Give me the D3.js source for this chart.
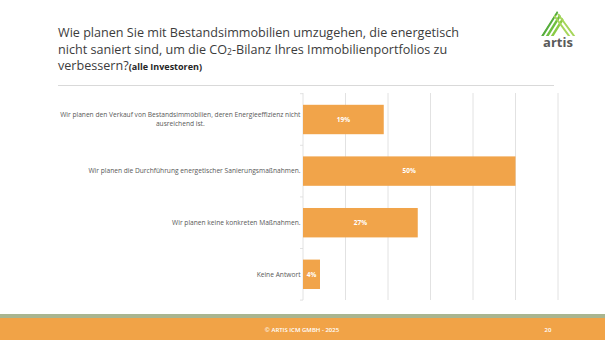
<!DOCTYPE html>
<html>
<head>
<meta charset="utf-8">
<script src="https://cdn.jsdelivr.net/npm/d3@7"></script>
<style>
  body { margin: 0; background: #fff; }
  svg { display: block; }
  text { font-family: "Open Sans", sans-serif; }
</style>
</head>
<body>
<svg id="chart" width="605" height="340"></svg>
<script>
const categories = [
  "Wir planen den Verkauf von Bestandsimmobilien, deren Energieeffizienz nicht ausreichend ist.",
  "Wir planen die Durchführung energetischer Sanierungsmaßnahmen.",
  "Wir planen keine konkreten Maßnahmen.",
  "Keine Antwort"
];
const values = [19, 50, 27, 4];
const gridTicks = [0, 10, 20, 30, 40, 50, 60];

const orange = "#f1a44a";
const svg = d3.select("#chart");

// title block
const title = svg.append("g").attr("fill", "#3c3c3c").style("font-size", "12.6px");
title.append("text").attr("x", 58).attr("y", 37)
    .text("Wie planen Sie mit Bestandsimmobilien umzugehen, die energetisch");
const t2 = title.append("text").attr("x", 58).attr("y", 53.5);
t2.append("tspan").text("nicht saniert sind, um die CO");
t2.append("tspan").attr("dy", 1.5).style("font-size", "8.5px").text("2");
t2.append("tspan").attr("dy", -1.5).text("-Bilanz Ihres Immobilienportfolios zu");
const t3 = title.append("text").attr("x", 58).attr("y", 70);
t3.append("tspan").text("verbessern?");
t3.append("tspan").style("font-size", "9px").style("font-weight", 700).attr("fill", "#262626")
    .text("(alle Investoren)");

svg.append("line").attr("x1", 58).attr("x2", 554).attr("y1", 85.5).attr("y2", 85.5)
    .attr("stroke", "#d9d9d9").attr("stroke-width", 1);

// logo
const logo = svg.append("g");
logo.append("clipPath").attr("id", "tri")
  .append("path").attr("d", "M557,11 L576,36 L541,36 Z");
const stripes = logo.append("g").attr("clip-path", "url(#tri)");
const greens = ["#3f9b3a", "#56ad3c", "#6fbf3f", "#8acb45"];
greens.forEach((c, i) => {
  stripes.append("line")
    .attr("x1", 536 + i * 5).attr("y1", 38).attr("x2", 556 + i * 5).attr("y2", 6)
    .attr("stroke", c).attr("stroke-width", 2.4);
});
[0, 1, 2].forEach(i => {
  stripes.append("line")
    .attr("x1", 553 + i * 5).attr("y1", 14).attr("x2", 572 + i * 5).attr("y2", 40)
    .attr("stroke", "#a6d65a").attr("stroke-width", 2);
});
logo.append("text").attr("x", 558).attr("y", 47).attr("text-anchor", "middle")
    .attr("fill", "#5a5a5a").style("font-size", "13px").style("font-weight", 700)
    .text("artis");

// chart
const x = d3.scaleLinear().domain([0, 60]).range([303, 558]);
const y = d3.scaleBand().domain(categories).range([93.7, 300.1])
    .paddingInner(0.43).paddingOuter(0.215);
const plotTop = 93, plotBottom = 300;

svg.append("g").selectAll("line").data(gridTicks).join("line")
    .attr("x1", d => x(d)).attr("x2", d => x(d))
    .attr("y1", plotTop).attr("y2", plotBottom)
    .attr("stroke", "#dadada").attr("stroke-width", 0.8);

// small separators on the category axis
const bounds = d3.range(categories.length + 1).map(i => 93.7 + i * y.step());
svg.append("g").selectAll("line").data(bounds).join("line")
    .attr("x1", x(0) - 3).attr("x2", x(0))
    .attr("y1", d => d).attr("y2", d => d)
    .attr("stroke", "#dadada").attr("stroke-width", 0.8);

svg.append("g").selectAll("rect").data(values).join("rect")
    .attr("x", x(0))
    .attr("y", (d, i) => y(categories[i]))
    .attr("width", d => x(d) - x(0))
    .attr("height", y.bandwidth())
    .attr("fill", orange);

svg.append("g").selectAll("text").data(values).join("text")
    .attr("x", d => (x(0) + x(d)) / 2)
    .attr("y", (d, i) => y(categories[i]) + y.bandwidth() / 2)
    .attr("dy", "0.35em")
    .attr("text-anchor", "middle")
    .attr("fill", "#fff")
    .style("font-size", "6.5px").style("font-weight", 700)
    .text(d => d + "%");

// category labels, wrapped and centred as a block that ends at the axis
const labelRight = 300.5, maxW = 250, lineH = 9.3;
categories.forEach(cat => {
  const g = svg.append("text").attr("fill", "#595959")
      .style("font-size", "6.65px").attr("text-anchor", "middle");
  const words = cat.split(" ");
  const lines = [];
  let cur = [];
  const probe = g.append("tspan");
  words.forEach(w => {
    probe.text([...cur, w].join(" "));
    if (probe.node().getComputedTextLength() > maxW && cur.length) {
      lines.push(cur.join(" "));
      cur = [w];
    } else cur.push(w);
  });
  lines.push(cur.join(" "));
  let blockW = 0;
  lines.forEach(l => {
    probe.text(l);
    blockW = Math.max(blockW, probe.node().getComputedTextLength());
  });
  probe.remove();
  const cy = y(cat) + y.bandwidth() / 2;
  const cx = labelRight - blockW / 2;
  lines.forEach((l, i) => {
    g.append("tspan").attr("x", cx)
      .attr("y", cy + (i - (lines.length - 1) / 2) * lineH)
      .attr("dy", "0.35em").text(l);
  });
});

// footer
svg.append("rect").attr("x", 0).attr("y", 314).attr("width", 605).attr("height", 4)
    .attr("fill", "#a9b58f");
svg.append("rect").attr("x", 0).attr("y", 318).attr("width", 605).attr("height", 22)
    .attr("fill", "#f1a347");
svg.append("text").attr("x", 302).attr("y", 330).attr("dy", "0.35em")
    .attr("text-anchor", "middle").attr("fill", "#fff")
    .style("font-size", "6px").style("font-weight", 600)
    .text("© ARTIS ICM GMBH - 2025");
svg.append("text").attr("x", 548).attr("y", 330).attr("dy", "0.35em")
    .attr("text-anchor", "middle").attr("fill", "#fff")
    .style("font-size", "6px").style("font-weight", 600)
    .text("20");
</script>
</body>
</html>
